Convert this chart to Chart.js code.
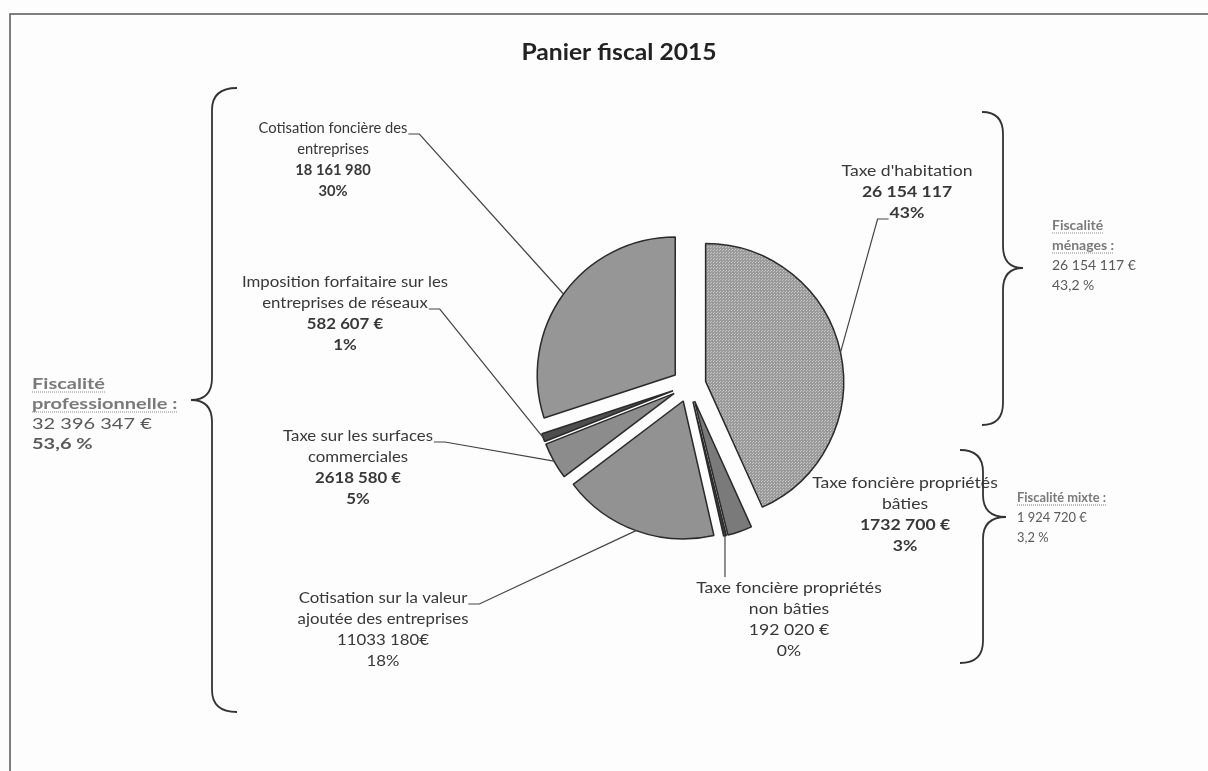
<!DOCTYPE html>
<html>
<head>
<meta charset="utf-8">
<title>Panier fiscal 2015</title>
<script src="https://cdn.jsdelivr.net/npm/chart.js@4.4.0/dist/chart.umd.min.js"></script>
<style>
  body { margin: 0; background: #fdfdfd; }
</style>
</head>
<body>
<canvas id="mycanvas" width="1208" height="771"></canvas>
<script>
// data
var categories = ["Taxe d'habitation", "Taxe foncière propriétés bâties", "Taxe foncière propriétés non bâties",
  "Cotisation sur la valeur ajoutée des entreprises", "Taxe sur les surfaces commerciales",
  "Imposition forfaitaire sur les entreprises de réseaux", "Cotisation foncière des entreprises"];
var amounts = [26154117, 1732700, 192020, 11033180, 2618580, 582607, 18161980];
var amountLabels = ["26 154 117", "1732 700 €", "192 020 €", "11033 180€", "2618 580 €", "582 607 €", "18 161 980"];
var percentLabels = ["43%", "3%", "0%", "18%", "5%", "1%", "30%"];

var groupNames = [["Fiscalité", "professionnelle :"], ["Fiscalité", "ménages :"], ["Fiscalité mixte :"]];
var groupAmounts = ["32 396 347 €", "26 154 117 €", "1 924 720 €"];
var groupPercents = ["53,6 %", "43,2 %", "3,2 %"];

// layout of the labels (wrapped name lines, centre x, first line y, leader line)
var labelLayout = [
  { lines: ["Taxe d'habitation"], x: 907, y: 171, sx: 1.1, lead: "under", row: 2, side: "left" },
  { lines: ["Taxe foncière propriétés", "bâties"], x: 905, y: 483, sx: 1.1, lead: "none" },
  { lines: ["Taxe foncière propriétés", "non bâties"], x: 789, y: 588, sx: 1.1, lead: "vertical", vy: 577 },
  { lines: ["Cotisation sur la valeur", "ajoutée des entreprises"], x: 383, y: 598, sx: 1.05, lead: "under", row: 0, side: "right" },
  { lines: ["Taxe sur les surfaces", "commerciales"], x: 358, y: 436, sx: 1.05, lead: "under", row: 0, side: "right" },
  { lines: ["Imposition forfaitaire sur les", "entreprises de réseaux"], x: 345, y: 282, sx: 1.05, lead: "under", row: 1, side: "right" },
  { lines: ["Cotisation foncière des", "entreprises"], x: 333, y: 128, sx: 0.92, lead: "under", row: 0, side: "right" }
];
var boldNumbers = [true, true, false, false, true, true, true];

var explodeDist = 17;
var lineH = 21;
var labelFont = "16px Lato";
var textColor = "#383838";

// dotted texture for the biggest slice
var pat = document.createElement("canvas");
pat.width = 3; pat.height = 3;
var pctx = pat.getContext("2d");
pctx.fillStyle = "#9a9a9a";
pctx.fillRect(0, 0, 3, 3);
pctx.fillStyle = "#c6c6c6";
pctx.fillRect(0, 0, 1, 1);
pctx.fillRect(2, 1, 1, 1);
var habPattern = pctx.createPattern(pat, "repeat");

var sliceColors = [habPattern, "#7a7a7a", "#3c3c3c", "#929292", "#8c8c8c", "#4e4e4e", "#969696"];

// text drawn with a horizontal stretch, returns the drawn width
function sText(ctx, s, x, y, sx, align) {
  var w = ctx.measureText(s).width * sx;
  ctx.save();
  ctx.translate(x, y);
  ctx.scale(sx, 1);
  ctx.textAlign = align;
  ctx.fillText(s, 0, 0);
  ctx.restore();
  return w;
}

function drawBrace(ctx, xEnd, xLine, xTip, yTop, yTip, yBot) {
  var r = 22;
  ctx.beginPath();
  ctx.moveTo(xEnd, yTop);
  ctx.quadraticCurveTo(xLine, yTop, xLine, yTop + r);
  ctx.lineTo(xLine, yTip - r);
  ctx.quadraticCurveTo(xLine, yTip, xTip, yTip);
  ctx.quadraticCurveTo(xLine, yTip, xLine, yTip + r);
  ctx.lineTo(xLine, yBot - r);
  ctx.quadraticCurveTo(xLine, yBot, xEnd, yBot);
  ctx.stroke();
}

function underline(ctx, x, y, w) {
  ctx.save();
  ctx.setLineDash([1, 1]);
  ctx.lineWidth = 1.2;
  ctx.beginPath();
  ctx.moveTo(x, y + 8);
  ctx.lineTo(x + w, y + 8);
  ctx.stroke();
  ctx.restore();
}

var explode = {
  id: "explode",
  afterDatasetsUpdate: function (chart) {
    var arcs = chart.getDatasetMeta(0).data;
    for (var i = 0; i < arcs.length; i++) {
      var mid = (arcs[i].startAngle + arcs[i].endAngle) / 2;
      arcs[i].x += Math.cos(mid) * explodeDist;
      arcs[i].y += Math.sin(mid) * explodeDist;
    }
  }
};

var decorations = {
  id: "decorations",
  beforeDraw: function (chart) {
    var ctx = chart.ctx;
    ctx.save();
    ctx.fillStyle = "#fdfdfd";
    ctx.fillRect(0, 0, chart.width, chart.height);
    ctx.restore();
  },
  afterDraw: function (chart) {
    var ctx = chart.ctx;
    var arcs = chart.getDatasetMeta(0).data;
    ctx.save();

    // frame
    ctx.strokeStyle = "#555";
    ctx.lineWidth = 1.5;
    ctx.beginPath();
    ctx.moveTo(10, 771);
    ctx.lineTo(10, 14);
    ctx.lineTo(1208, 14);
    ctx.stroke();

    // title
    ctx.fillStyle = "#222";
    ctx.font = "bold 22px Lato";
    ctx.textBaseline = "middle";
    sText(ctx, "Panier fiscal 2015", 619, 53, 1.12, "center");

    // slice labels and leader lines
    ctx.strokeStyle = "#444";
    ctx.lineWidth = 1.2;
    for (var i = 0; i < labelLayout.length; i++) {
      var L = labelLayout[i];
      var rows = L.lines.concat([amountLabels[i], percentLabels[i]]);
      var widths = [];
      for (var j = 0; j < rows.length; j++) {
        var isNum = j >= L.lines.length;
        ctx.font = (isNum && boldNumbers[i] ? "bold " : "") + labelFont;
        ctx.fillStyle = textColor;
        widths.push(sText(ctx, rows[j], L.x, L.y + j * lineH, L.sx, "center"));
      }
      var a = arcs[i];
      var mid = (a.startAngle + a.endAngle) / 2;
      var px = a.x + Math.cos(mid) * a.outerRadius;
      var py = a.y + Math.sin(mid) * a.outerRadius;
      ctx.beginPath();
      if (L.lead === "under") {
        var uy = L.y + L.row * lineH + 6;
        var ux0, ux1;
        if (L.side === "right") {
          ux0 = L.x + widths[L.row] / 2 + 1;
          ux1 = ux0 + 11;
        } else {
          ux0 = L.x - widths[L.row] / 2 - 1;
          ux1 = ux0 - 11;
        }
        ctx.moveTo(ux0, uy);
        ctx.lineTo(ux1, uy);
        ctx.lineTo(px, py);
      } else if (L.lead === "vertical") {
        ctx.moveTo(px, L.vy);
        ctx.lineTo(px, py);
      }
      ctx.stroke();
    }

    // braces
    ctx.strokeStyle = "#333";
    ctx.lineWidth = 1.8;
    drawBrace(ctx, 237, 212, 191, 88, 400, 712);
    drawBrace(ctx, 982, 1003, 1023, 112, 268, 425);
    drawBrace(ctx, 960, 983, 1006, 450, 517, 663);

    // group texts
    var groupPos = [[32, 384], [1052, 225], [1017, 497]];
    var groupSize = [16, 14, 14];
    var groupStretch = [1.25, 1.0, 0.92];
    for (var g = 0; g < groupNames.length; g++) {
      var gx = groupPos[g][0], gy = groupPos[g][1];
      ctx.font = "bold " + groupSize[g] + "px Lato";
      ctx.fillStyle = "#7a7a7a";
      ctx.strokeStyle = "#8a8a8a";
      for (var k = 0; k < groupNames[g].length; k++) {
        var w = sText(ctx, groupNames[g][k], gx, gy + k * 20, groupStretch[g], "left");
        underline(ctx, gx, gy + k * 20, w);
      }
      var n = groupNames[g].length;
      ctx.font = groupSize[g] + "px Lato";
      ctx.fillStyle = "#5a5a5a";
      sText(ctx, groupAmounts[g], gx, gy + n * 20, groupStretch[g], "left");
      ctx.font = (g === 0 ? "bold " : "") + groupSize[g] + "px Lato";
      sText(ctx, groupPercents[g], gx, gy + (n + 1) * 20, groupStretch[g], "left");
    }
    ctx.restore();
  }
};

var ctx = document.getElementById("mycanvas").getContext("2d");
var myChart = new Chart(ctx, {
  type: "pie",
  data: {
    labels: categories,
    datasets: [{
      data: amounts,
      backgroundColor: sliceColors,
      borderColor: "#2a2a2a",
      borderWidth: 1.5
    }]
  },
  options: {
    responsive: false,
    animation: false,
    events: [],
    radius: 138,
    layout: { padding: { left: 170, right: 0, top: 0, bottom: 1 } },
    plugins: {
      legend: { display: false },
      tooltip: { enabled: false },
      title: { display: false }
    }
  },
  plugins: [explode, decorations]
});
</script>
</body>
</html>
